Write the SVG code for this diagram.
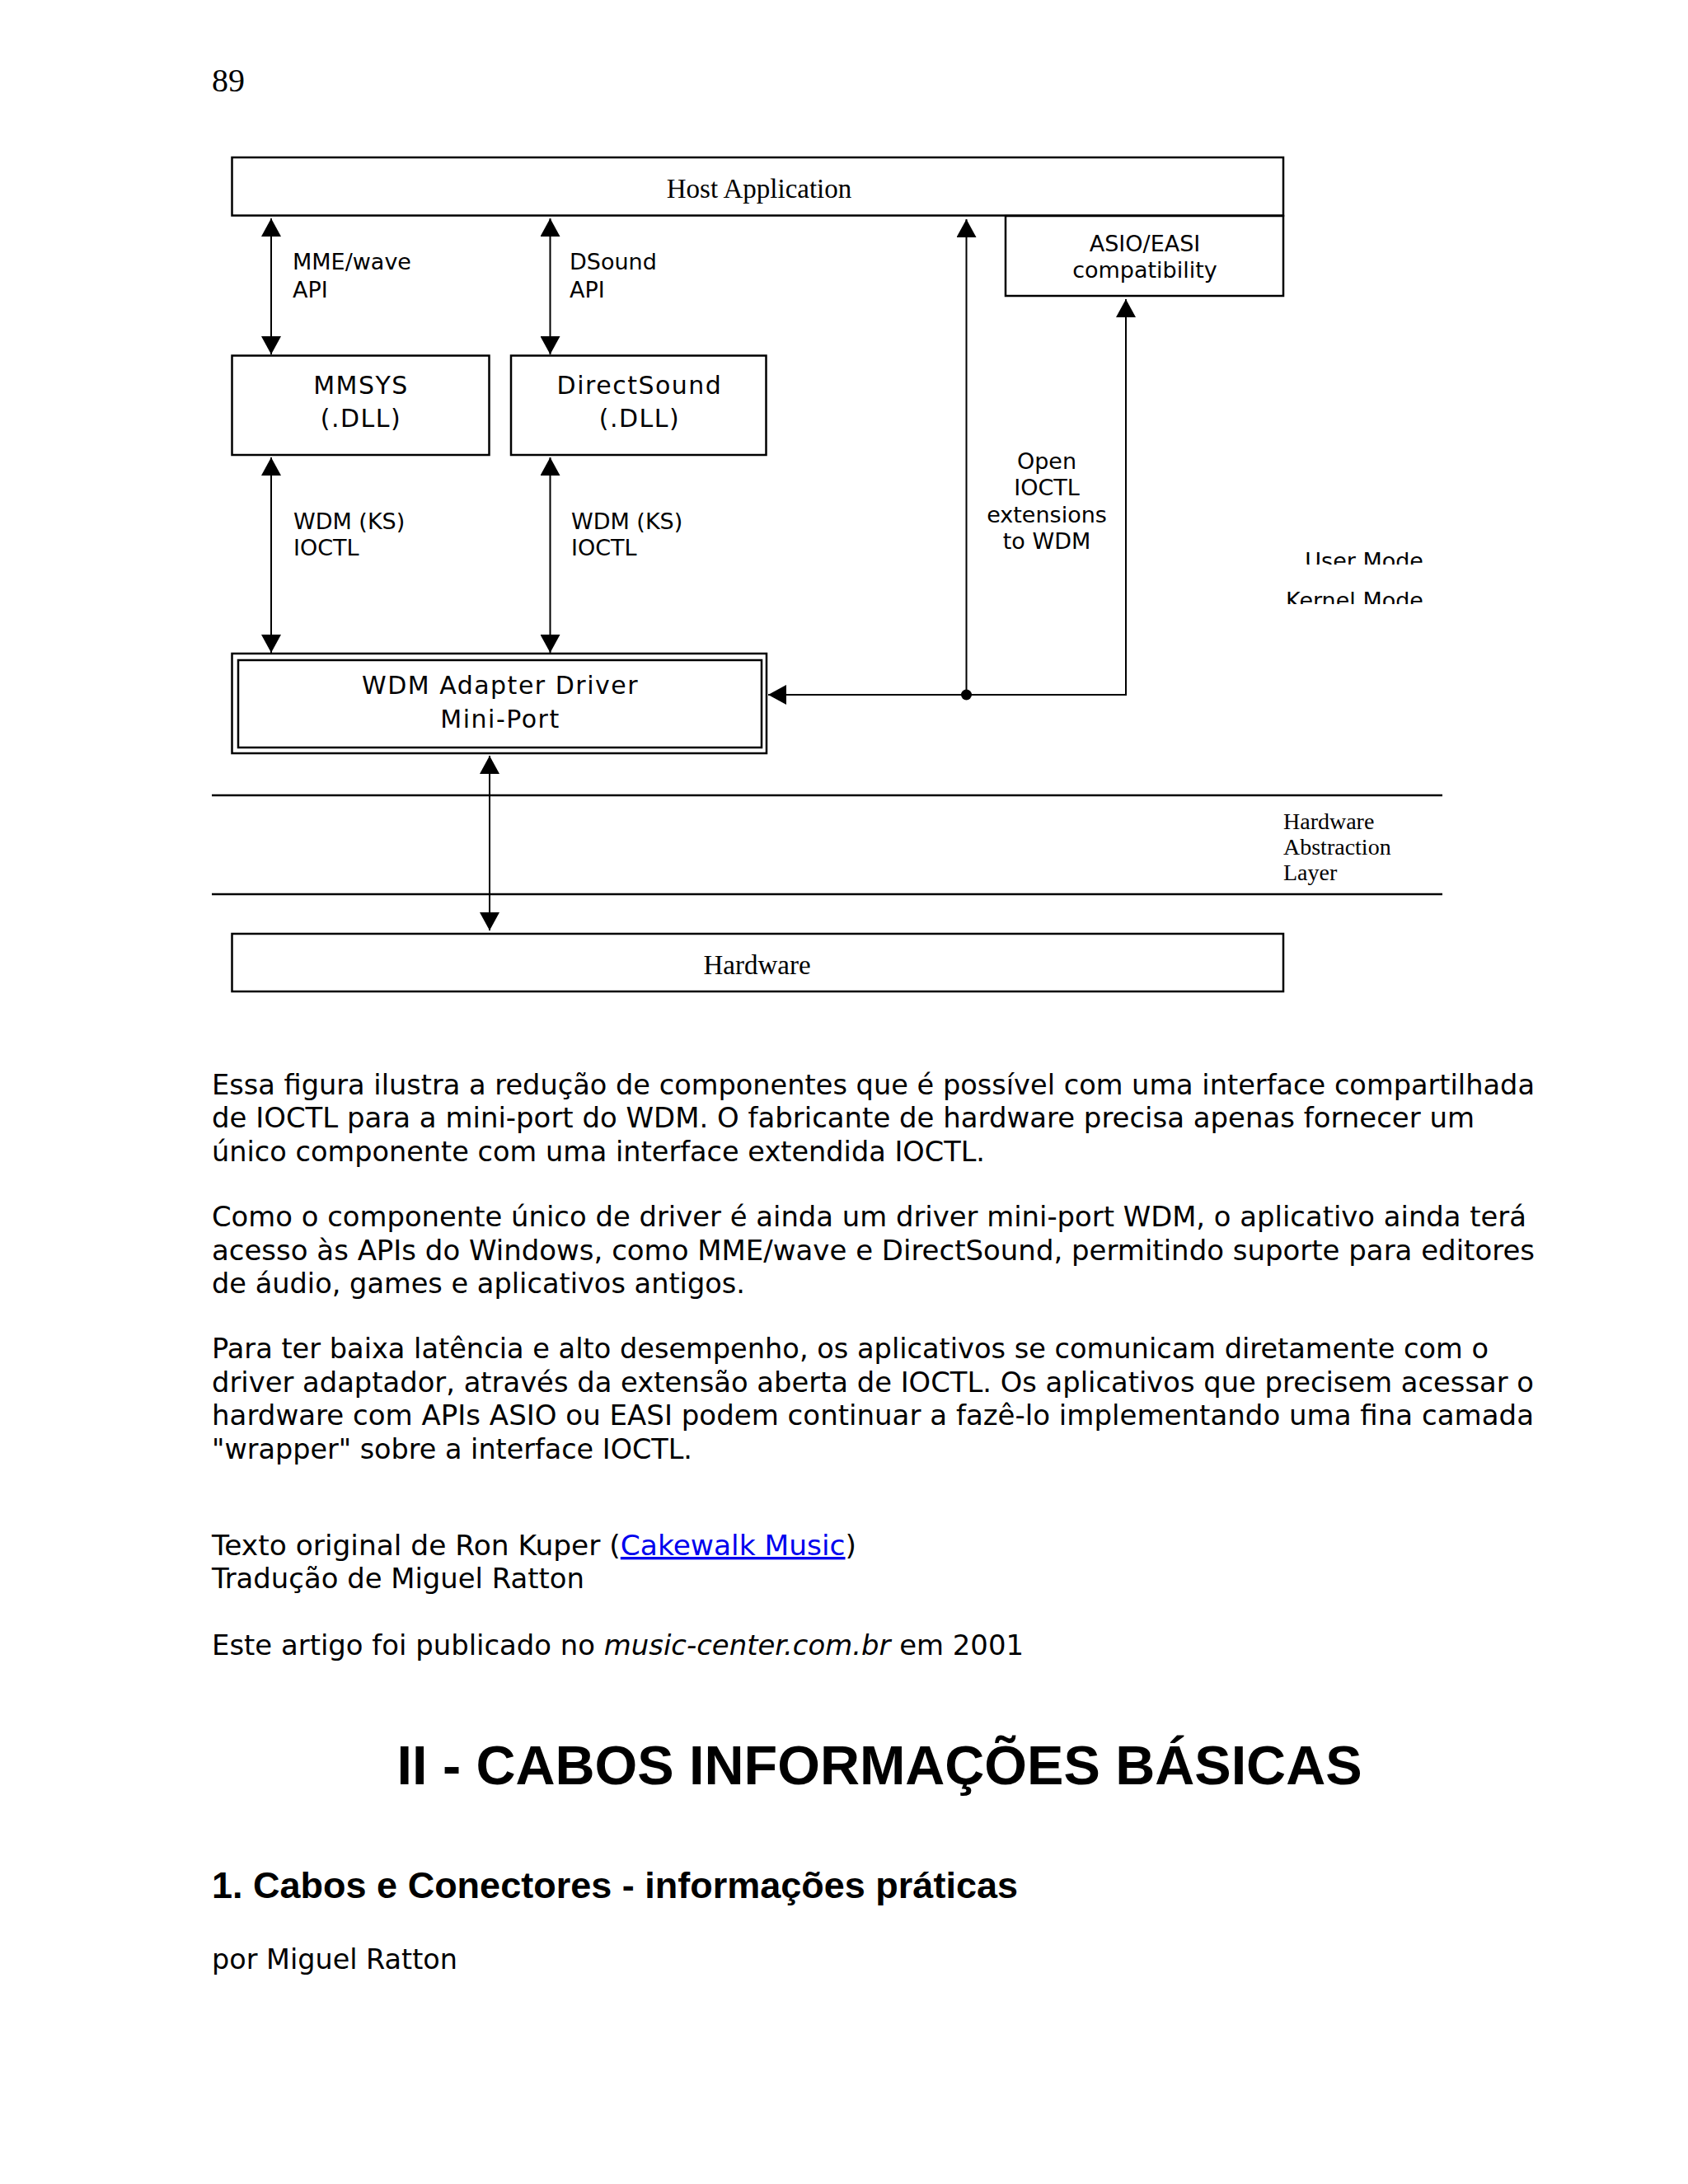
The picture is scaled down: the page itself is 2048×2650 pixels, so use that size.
<svg xmlns="http://www.w3.org/2000/svg" width="2048" height="2650" viewBox="0 0 2048 2650">
<style>
.box{fill:#fff;stroke:#000;stroke-width:2.5}
.ln{fill:none;stroke:#000;stroke-width:2}
.sep{fill:none;stroke:#000;stroke-width:2.5}
.lbl{font-family:"DejaVu Sans",Verdana,sans-serif;font-size:27px;fill:#000}
.blbl{font-family:"DejaVu Sans",Verdana,sans-serif;font-size:30px;fill:#000;letter-spacing:1.5px;text-anchor:middle}
.ser{font-family:"Liberation Serif","Times New Roman",serif;fill:#000}
.body{font-family:"DejaVu Sans",Verdana,sans-serif;font-size:33.5px;fill:#000}
.hd{font-family:"Liberation Sans",Arial,sans-serif;font-weight:bold;fill:#000}
.link{fill:#0000ee;text-decoration:underline}
</style>
<defs>
<marker id="ah" viewBox="0 0 22 24" refX="22" refY="12" markerWidth="22" markerHeight="24" markerUnits="userSpaceOnUse" orient="auto-start-reverse">
<path d="M0,0 L22,12 L0,24 z" fill="#000"/>
</marker>
<clipPath id="clipUser"><rect x="1500" y="650" width="300" height="35"/></clipPath>
<clipPath id="clipKernel"><rect x="1500" y="700" width="300" height="33"/></clipPath>
</defs>
<rect width="2048" height="2650" fill="#fff"/>

<text class="ser" x="257" y="111" font-size="40">89</text>

<g id="host-application">
<rect class="box" x="281.5" y="191" width="1275.5" height="70.5"/>
<text class="ser" x="921" y="240" font-size="33" text-anchor="middle">Host Application</text>
</g>
<g id="asio-easi">
<rect class="box" x="1220" y="262" width="337" height="97"/>
<text class="lbl" x="1389" y="305" text-anchor="middle">ASIO/EASI</text>
<text class="lbl" x="1389" y="337" text-anchor="middle">compatibility</text>
</g>
<g id="mmsys">
<rect class="box" x="281.5" y="431.5" width="312" height="120.5"/>
<text class="blbl" x="438" y="478">MMSYS</text>
<text class="blbl" x="438" y="518">(.DLL)</text>
</g>
<g id="directsound">
<rect class="box" x="620" y="431.5" width="309.5" height="120.5"/>
<text class="blbl" x="776" y="478">DirectSound</text>
<text class="blbl" x="776" y="518">(.DLL)</text>
</g>
<g id="wdm-adapter">
<rect class="box" x="281.5" y="793" width="648.5" height="121"/>
<rect class="box" x="289" y="801" width="635" height="106"/>
<text class="blbl" x="607" y="842">WDM Adapter Driver</text>
<text class="blbl" x="607" y="883">Mini-Port</text>
</g>
<g id="hardware">
<rect class="box" x="281.5" y="1133" width="1275.5" height="70"/>
<text class="ser" x="918.5" y="1182" font-size="33" text-anchor="middle">Hardware</text>
</g>

<g id="mode-labels">
<text class="lbl" x="1727" y="689.5" text-anchor="end" clip-path="url(#clipUser)">User Mode</text>
<text class="lbl" x="1727" y="737.5" text-anchor="end" clip-path="url(#clipKernel)">Kernel Mode</text>
</g>
<g id="hal">
<line class="sep" x1="257" y1="965" x2="1750" y2="965"/>
<line class="sep" x1="257" y1="1085" x2="1750" y2="1085"/>
<text class="ser" font-size="28" x="1557" y="1006">Hardware</text>
<text class="ser" font-size="28" x="1557" y="1037">Abstraction</text>
<text class="ser" font-size="28" x="1557" y="1068">Layer</text>
</g>

<g id="connectors">
<line class="ln" x1="329" y1="265" x2="329" y2="430" marker-start="url(#ah)" marker-end="url(#ah)"/>
<line class="ln" x1="667.5" y1="265" x2="667.5" y2="430" marker-start="url(#ah)" marker-end="url(#ah)"/>
<line class="ln" x1="329" y1="555" x2="329" y2="792" marker-start="url(#ah)" marker-end="url(#ah)"/>
<line class="ln" x1="667.5" y1="555" x2="667.5" y2="792" marker-start="url(#ah)" marker-end="url(#ah)"/>
<line class="ln" x1="1172.5" y1="843" x2="1172.5" y2="266" marker-end="url(#ah)"/>
<line class="ln" x1="1366" y1="844" x2="1366" y2="363" marker-end="url(#ah)"/>
<line class="ln" x1="1367" y1="843" x2="932" y2="843" marker-end="url(#ah)"/>
<circle cx="1172.5" cy="843" r="6.5" fill="#000"/>
<line class="ln" x1="594" y1="917" x2="594" y2="1129" marker-start="url(#ah)" marker-end="url(#ah)"/>
<text class="lbl" x="355" y="327">MME/wave</text>
<text class="lbl" x="355" y="361">API</text>
<text class="lbl" x="691" y="327">DSound</text>
<text class="lbl" x="691" y="361">API</text>
<text class="lbl" x="356" y="642">WDM (KS)</text>
<text class="lbl" x="356" y="674">IOCTL</text>
<text class="lbl" x="693" y="642">WDM (KS)</text>
<text class="lbl" x="693" y="674">IOCTL</text>
<text class="lbl" x="1270" y="569" text-anchor="middle">Open</text>
<text class="lbl" x="1270" y="601" text-anchor="middle">IOCTL</text>
<text class="lbl" x="1270" y="634" text-anchor="middle">extensions</text>
<text class="lbl" x="1270" y="666" text-anchor="middle">to WDM</text>
</g>

<g id="text-body">
<text class="body" x="257" y="1327.5" textLength="1605" lengthAdjust="spacingAndGlyphs">Essa figura ilustra a redução de componentes que é possível com uma interface compartilhada</text>
<text class="body" x="257" y="1368" textLength="1532" lengthAdjust="spacingAndGlyphs">de IOCTL para a mini-port do WDM. O fabricante de hardware precisa apenas fornecer um</text>
<text class="body" x="257" y="1408.5" textLength="938" lengthAdjust="spacingAndGlyphs">único componente com uma interface extendida IOCTL.</text>

<text class="body" x="257" y="1488" textLength="1595" lengthAdjust="spacingAndGlyphs">Como o componente único de driver é ainda um driver mini-port WDM, o aplicativo ainda terá</text>
<text class="body" x="257" y="1528.5" textLength="1605" lengthAdjust="spacingAndGlyphs">acesso às APIs do Windows, como MME/wave e DirectSound, permitindo suporte para editores</text>
<text class="body" x="257" y="1569" textLength="647" lengthAdjust="spacingAndGlyphs">de áudio, games e aplicativos antigos.</text>

<text class="body" x="257" y="1648" textLength="1549" lengthAdjust="spacingAndGlyphs">Para ter baixa latência e alto desempenho, os aplicativos se comunicam diretamente com o</text>
<text class="body" x="257" y="1688.5" textLength="1604" lengthAdjust="spacingAndGlyphs">driver adaptador, através da extensão aberta de IOCTL. Os aplicativos que precisem acessar o</text>
<text class="body" x="257" y="1729" textLength="1604" lengthAdjust="spacingAndGlyphs">hardware com APIs ASIO ou EASI podem continuar a fazê-lo implementando uma fina camada</text>
<text class="body" x="257" y="1769.5" textLength="583" lengthAdjust="spacingAndGlyphs">"wrapper" sobre a interface IOCTL.</text>

<text class="body" x="257" y="1887" textLength="782" lengthAdjust="spacingAndGlyphs">Texto original de Ron Kuper (<tspan class="link">Cakewalk Music</tspan>)</text>
<text class="body" x="257" y="1927" textLength="452" lengthAdjust="spacingAndGlyphs">Tradução de Miguel Ratton</text>
<text class="body" x="257" y="2007.5" textLength="985" lengthAdjust="spacingAndGlyphs">Este artigo foi publicado no <tspan font-style="italic">music-center.com.br</tspan> em 2001</text>

<text class="hd" x="481.5" y="2165" font-size="66" textLength="1171" lengthAdjust="spacingAndGlyphs">II - CABOS INFORMAÇÕES BÁSICAS</text>
<text class="hd" x="257" y="2303" font-size="44" textLength="978" lengthAdjust="spacingAndGlyphs">1. Cabos e Conectores - informações práticas</text>
<text class="body" x="257" y="2389" textLength="298" lengthAdjust="spacingAndGlyphs">por Miguel Ratton</text>
</g>
</svg>
